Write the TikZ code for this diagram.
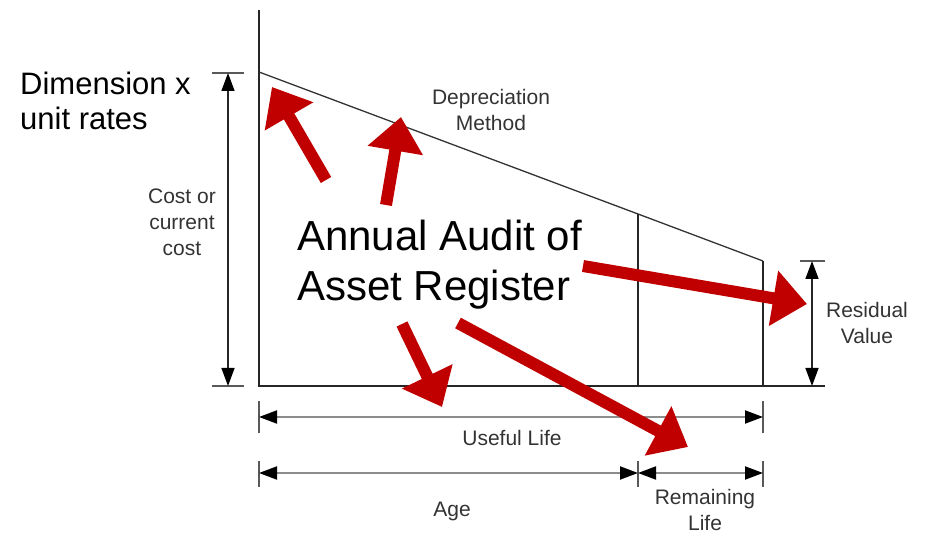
\documentclass[tikz,border=0pt]{standalone}
\usepackage{fontspec}
\setmainfont{Liberation Sans}
\usetikzlibrary{arrows.meta}
\definecolor{lblc}{HTML}{333333}
\definecolor{redarr}{HTML}{C00000}
\begin{document}
\begin{tikzpicture}[x=1pt,y=-1pt,
 axisline/.style={line width=2pt, draw=black!85},
 chartline/.style={line width=1.3pt, draw=black!80},
 dimline/.style={line width=2pt, draw=black!45, {Triangle[length=18pt,width=13pt,color=black]}-{Triangle[length=18pt,width=13pt,color=black]}},
 dimtick/.style={line width=2pt, draw=black!65},
 lbl/.style={font=\fontsize{21}{26}\selectfont, text=lblc, align=center, inner sep=0pt},
 bigtext/.style={font=\fontsize{42}{50}\selectfont, align=left, inner sep=0pt, anchor=west},
 midtext/.style={font=\fontsize{31}{35}\selectfont, align=left, inner sep=0pt, anchor=west},
 redarrow/.style={draw=redarr, line width=12pt, -{Triangle[length=34pt,width=54pt,color=redarr]}}]
\useasboundingbox (0,0) rectangle (935,534);
% chart coordinates
\coordinate (top) at (259,10);
\coordinate (O) at (259,386);
\coordinate (bend) at (825,386);
\coordinate (P0) at (259,72);
\coordinate (P1) at (638,214);
\coordinate (P2) at (763,261);
\coordinate (B1) at (638,386);
\coordinate (B2) at (763,386);
% axes and chart
\draw[axisline] (top) -- (O) -- (bend);
\draw[chartline] (P0) -- (P1) -- (P2);
\draw[axisline] (P1) -- (B1);
\draw[axisline] (P2) -- (B2);
% cost dimension
\coordinate (ct1) at (212,73); \coordinate (ct2) at (244,73);
\coordinate (cb1) at (212,386); \coordinate (cb2) at (244,386);
\coordinate (ca) at (228,73); \coordinate (cb) at (228,386);
\draw[dimtick] (ct1) -- (ct2);
\draw[dimtick] (cb1) -- (cb2);
\draw[dimline, draw=black!85, line width=1.5pt] (ca) -- (cb);
% residual dimension
\coordinate (rt1) at (800,261); \coordinate (rt2) at (825,261);
\coordinate (ra) at (812,261); \coordinate (rb) at (812,386);
\draw[dimtick] (rt1) -- (rt2);
\draw[dimline, draw=black!85, line width=1.5pt] (ra) -- (rb);
% useful life
\coordinate (u1a) at (259,401); \coordinate (u1b) at (259,433);
\coordinate (u2a) at (763,401); \coordinate (u2b) at (763,433);
\coordinate (ua) at (259,417); \coordinate (ub) at (763,417);
\draw[dimtick] (u1a) -- (u1b);
\draw[dimtick] (u2a) -- (u2b);
\draw[dimline] (ua) -- (ub);
% age and remaining life
\coordinate (a1a) at (259,461); \coordinate (a1b) at (259,487);
\coordinate (a2a) at (638,461); \coordinate (a2b) at (638,487);
\coordinate (a3a) at (763,461); \coordinate (a3b) at (763,487);
\coordinate (aa) at (259,473); \coordinate (ab) at (638,473); \coordinate (ac) at (763,473);
\draw[dimtick] (a1a) -- (a1b);
\draw[dimtick] (a2a) -- (a2b);
\draw[dimtick] (a3a) -- (a3b);
\draw[dimline] (aa) -- (ab);
\draw[dimline] (ab) -- (ac);
% labels
\node[lbl] (dep) at (491,110) {Depreciation\\Method};
\node[lbl] (cost) at (182,222) {Cost or\\current\\cost};
\node[lbl] (resid) at (867,323) {Residual\\Value};
\node[lbl] (useful) at (512,438) {Useful Life};
\node[lbl] (age) at (452,511) {Age};
\node[lbl] (remain) at (705,510) {Remaining\\Life};
\node[midtext] (dim) at (20,101) {Dimension x\\unit rates};
\node[bigtext] (audit) at (297,265) {Annual Audit of\\Asset Register};
% red arrows
\coordinate (t1) at (326,180); \coordinate (h1) at (272,87);
\coordinate (t2) at (386,205); \coordinate (h2) at (401,117);
\coordinate (t3) at (583,266); \coordinate (h3) at (807,304);
\coordinate (t4) at (402,324); \coordinate (h4) at (442,407);
\coordinate (t5) at (458,323); \coordinate (h5) at (688,447);
\draw[redarrow] (t1) -- (h1);
\draw[redarrow] (t2) -- (h2);
\draw[redarrow] (t3) -- (h3);
\draw[redarrow] (t4) -- (h4);
\draw[redarrow] (t5) -- (h5);
\end{tikzpicture}
\end{document}
